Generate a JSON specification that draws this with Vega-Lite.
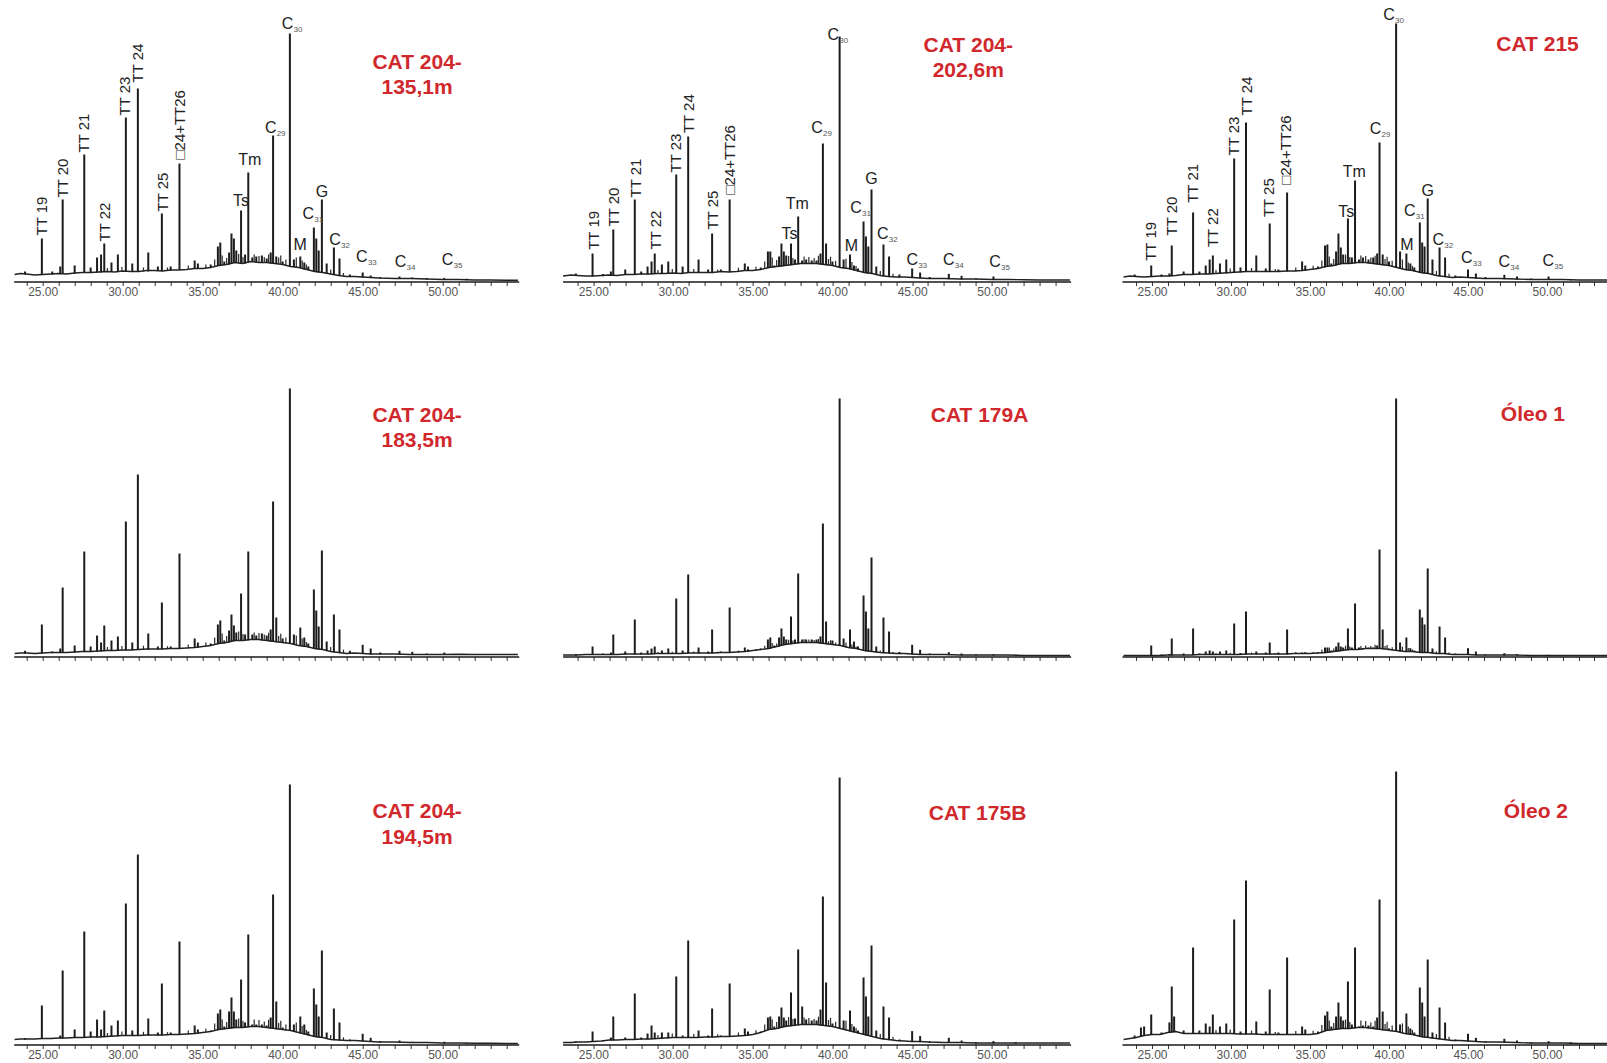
{
  "$schema": "https://vega.github.io/schema/vega-lite/v6.json",
  "padding": {"left": 11.7, "top": 5, "right": 0, "bottom": 0},
  "background": "white",
  "config": {
    "view": {"stroke": null},
    "axis": {"grid": false, "domainColor": "#1a1a1a", "domainWidth": 1.6, "tickColor": "#333", "tickSize": 4, "tickWidth": 1, "labelColor": "#555", "labelFont": "Liberation Sans Narrow, Liberation Sans, sans-serif", "labelFontSize": 12, "labelPadding": 1, "labelOverlap": false, "labelFlush": false},
    "text": {"font": "Liberation Sans"}
  },
  "datasets": {
    "bsA": [{"t":23.25,"v":7},{"t":23.6,"v":8},{"t":24,"v":7.5},{"t":24.5,"v":6.5},{"t":25,"v":7},{"t":25.5,"v":7.5},{"t":26,"v":8},{"t":26.5,"v":7.5},{"t":27,"v":8.5},{"t":27.5,"v":9},{"t":28,"v":9},{"t":28.5,"v":9.5},{"t":29,"v":10},{"t":29.5,"v":9.5},{"t":30,"v":10.5},{"t":30.5,"v":10},{"t":31,"v":10},{"t":31.5,"v":11},{"t":32,"v":11},{"t":32.5,"v":10.5},{"t":33,"v":11.5},{"t":33.5,"v":11.5},{"t":34,"v":12},{"t":34.5,"v":13},{"t":35,"v":13},{"t":35.5,"v":14},{"t":36,"v":16},{"t":36.5,"v":17},{"t":37,"v":19},{"t":37.5,"v":18},{"t":38,"v":20},{"t":38.5,"v":19},{"t":39,"v":19},{"t":39.5,"v":18},{"t":40,"v":17},{"t":40.5,"v":15},{"t":41,"v":14},{"t":41.5,"v":12},{"t":42,"v":10},{"t":42.5,"v":9},{"t":43,"v":7.5},{"t":43.5,"v":6},{"t":44,"v":5},{"t":44.5,"v":5},{"t":45,"v":4.5},{"t":45.5,"v":4},{"t":46,"v":3.5},{"t":47,"v":3},{"t":48,"v":3},{"t":49,"v":2.5},{"t":50,"v":2},{"t":51,"v":2},{"t":52,"v":1.5},{"t":53,"v":1.5},{"t":54,"v":1.2},{"t":54.7,"v":1.2}],
    "bsB": [{"t":23.1,"v":5.5},{"t":23.6,"v":6.5},{"t":24,"v":6},{"t":24.5,"v":5.5},{"t":25,"v":5.5},{"t":25.5,"v":6},{"t":26,"v":6.5},{"t":26.5,"v":6},{"t":27,"v":7},{"t":27.5,"v":7},{"t":28,"v":7.5},{"t":28.5,"v":7.5},{"t":29,"v":8},{"t":29.5,"v":8},{"t":30,"v":8.5},{"t":30.5,"v":8},{"t":31,"v":9},{"t":31.5,"v":9},{"t":32,"v":9},{"t":32.5,"v":9},{"t":33,"v":10},{"t":33.5,"v":9.5},{"t":34,"v":10},{"t":34.5,"v":11},{"t":35,"v":11},{"t":35.5,"v":12},{"t":36,"v":14},{"t":36.5,"v":15},{"t":37,"v":16},{"t":37.5,"v":17},{"t":38,"v":18},{"t":38.5,"v":18},{"t":39,"v":18},{"t":39.5,"v":17},{"t":40,"v":16},{"t":40.5,"v":14},{"t":41,"v":13},{"t":41.5,"v":11},{"t":42,"v":9},{"t":42.5,"v":8},{"t":43,"v":6},{"t":43.5,"v":5},{"t":44,"v":4.5},{"t":44.5,"v":4.5},{"t":45,"v":4},{"t":45.5,"v":3.5},{"t":46,"v":3},{"t":47,"v":3},{"t":48,"v":2.5},{"t":49,"v":2.5},{"t":50,"v":2},{"t":51,"v":2},{"t":52,"v":1.8},{"t":53,"v":1.5},{"t":54,"v":1.5},{"t":54.9,"v":1.5}],
    "bsC": [{"t":23.2,"v":4.5},{"t":23.6,"v":5.5},{"t":24,"v":5},{"t":24.5,"v":4.5},{"t":25,"v":5},{"t":25.5,"v":5.5},{"t":26,"v":5.5},{"t":26.5,"v":6},{"t":27,"v":7},{"t":27.5,"v":7},{"t":28,"v":7.5},{"t":28.5,"v":7.5},{"t":29,"v":8},{"t":29.5,"v":8.5},{"t":30,"v":9},{"t":30.5,"v":9.5},{"t":31,"v":10},{"t":31.5,"v":10},{"t":32,"v":10},{"t":32.5,"v":10},{"t":33,"v":10},{"t":33.5,"v":10.5},{"t":34,"v":10.5},{"t":34.5,"v":11},{"t":35,"v":12},{"t":35.5,"v":13},{"t":36,"v":15},{"t":36.5,"v":16},{"t":37,"v":18},{"t":37.5,"v":18},{"t":38,"v":19},{"t":38.5,"v":19},{"t":39,"v":18},{"t":39.5,"v":17},{"t":40,"v":16},{"t":40.5,"v":14},{"t":41,"v":12},{"t":41.5,"v":11},{"t":42,"v":9},{"t":42.5,"v":8},{"t":43,"v":6},{"t":43.5,"v":5},{"t":44,"v":4},{"t":44.5,"v":4.5},{"t":45,"v":4},{"t":45.5,"v":3.5},{"t":46,"v":3},{"t":47,"v":3},{"t":48,"v":2.5},{"t":49,"v":2},{"t":50,"v":2},{"t":51,"v":2},{"t":52,"v":1.5},{"t":53,"v":1.5},{"t":53.8,"v":1.5}],
    "bsD": [{"t":23.25,"v":3},{"t":23.6,"v":3.5},{"t":24,"v":3.5},{"t":24.5,"v":3},{"t":25,"v":3.5},{"t":25.5,"v":4},{"t":26,"v":4},{"t":26.5,"v":4},{"t":27,"v":4.5},{"t":27.5,"v":5},{"t":28,"v":5},{"t":28.5,"v":5.5},{"t":29,"v":6},{"t":29.5,"v":6},{"t":30,"v":6.5},{"t":30.5,"v":6.5},{"t":31,"v":7},{"t":31.5,"v":7.5},{"t":32,"v":7.5},{"t":32.5,"v":7.5},{"t":33,"v":8},{"t":33.5,"v":8},{"t":34,"v":8.5},{"t":34.5,"v":9},{"t":35,"v":10},{"t":35.5,"v":11},{"t":36,"v":13},{"t":36.5,"v":14},{"t":37,"v":16},{"t":37.5,"v":16},{"t":38,"v":17},{"t":38.5,"v":17},{"t":39,"v":16},{"t":39.5,"v":15},{"t":40,"v":14},{"t":40.5,"v":13},{"t":41,"v":11},{"t":41.5,"v":10},{"t":42,"v":8},{"t":42.5,"v":7},{"t":43,"v":5},{"t":43.5,"v":4},{"t":44,"v":3},{"t":44.5,"v":3.5},{"t":45,"v":3},{"t":45.5,"v":2.5},{"t":46,"v":2.5},{"t":47,"v":2.5},{"t":48,"v":2},{"t":49,"v":2},{"t":50,"v":2},{"t":51,"v":2.2},{"t":52,"v":2},{"t":53,"v":2},{"t":54,"v":2},{"t":54.7,"v":2}],
    "bsE": [{"t":23.1,"v":1.5},{"t":23.6,"v":1.5},{"t":24,"v":1.5},{"t":24.5,"v":2},{"t":25,"v":2},{"t":25.5,"v":2},{"t":26,"v":2},{"t":26.5,"v":2},{"t":27,"v":2.5},{"t":27.5,"v":2.5},{"t":28,"v":2.5},{"t":28.5,"v":2.5},{"t":29,"v":3},{"t":29.5,"v":3},{"t":30,"v":3},{"t":30.5,"v":3},{"t":31,"v":3.5},{"t":31.5,"v":3.5},{"t":32,"v":3.5},{"t":32.5,"v":3.5},{"t":33,"v":4},{"t":33.5,"v":4},{"t":34,"v":4.5},{"t":34.5,"v":5},{"t":35,"v":6},{"t":35.5,"v":7},{"t":36,"v":8},{"t":36.5,"v":10},{"t":37,"v":12},{"t":37.5,"v":13},{"t":38,"v":14},{"t":38.5,"v":14},{"t":39,"v":14},{"t":39.5,"v":13},{"t":40,"v":12},{"t":40.5,"v":11},{"t":41,"v":9},{"t":41.5,"v":8},{"t":42,"v":6},{"t":42.5,"v":5},{"t":43,"v":4},{"t":43.5,"v":3.5},{"t":44,"v":3},{"t":44.5,"v":3},{"t":45,"v":2.5},{"t":45.5,"v":2},{"t":46,"v":2},{"t":47,"v":2},{"t":48,"v":1.5},{"t":49,"v":1.5},{"t":50,"v":1.5},{"t":51,"v":1.5},{"t":52,"v":1},{"t":53,"v":1},{"t":54,"v":1},{"t":54.9,"v":1}],
    "bsF": [{"t":23.2,"v":1},{"t":23.6,"v":1},{"t":24,"v":1},{"t":24.5,"v":1},{"t":25,"v":1},{"t":25.5,"v":1},{"t":26,"v":1.5},{"t":26.5,"v":1.5},{"t":27,"v":1.5},{"t":27.5,"v":1.5},{"t":28,"v":2},{"t":28.5,"v":2},{"t":29,"v":2},{"t":29.5,"v":2},{"t":30,"v":2},{"t":30.5,"v":2},{"t":31,"v":2.5},{"t":31.5,"v":2.5},{"t":32,"v":2.5},{"t":32.5,"v":2.5},{"t":33,"v":2.5},{"t":33.5,"v":2.5},{"t":34,"v":3},{"t":34.5,"v":3},{"t":35,"v":3},{"t":35.5,"v":3.5},{"t":36,"v":4},{"t":36.5,"v":5},{"t":37,"v":6},{"t":37.5,"v":7},{"t":38,"v":7},{"t":38.5,"v":8},{"t":39,"v":8},{"t":39.5,"v":8},{"t":40,"v":7},{"t":40.5,"v":6},{"t":41,"v":5},{"t":41.5,"v":5},{"t":42,"v":4},{"t":42.5,"v":4},{"t":43,"v":3},{"t":43.5,"v":3},{"t":44,"v":2},{"t":44.5,"v":2},{"t":45,"v":2},{"t":45.5,"v":1.5},{"t":46,"v":1.5},{"t":47,"v":1.5},{"t":48,"v":1.5},{"t":49,"v":1},{"t":50,"v":1},{"t":51,"v":1},{"t":52,"v":1},{"t":53,"v":1},{"t":53.8,"v":1}],
    "bsG": [{"t":23.25,"v":5},{"t":23.6,"v":5.5},{"t":24,"v":5.5},{"t":24.5,"v":5.5},{"t":25,"v":6},{"t":25.5,"v":6},{"t":26,"v":6.5},{"t":26.5,"v":6.5},{"t":27,"v":7},{"t":27.5,"v":7},{"t":28,"v":7.5},{"t":28.5,"v":7.5},{"t":29,"v":8},{"t":29.5,"v":8.5},{"t":30,"v":9},{"t":30.5,"v":9},{"t":31,"v":9},{"t":31.5,"v":9.5},{"t":32,"v":9.5},{"t":32.5,"v":9.5},{"t":33,"v":10},{"t":33.5,"v":10},{"t":34,"v":10.5},{"t":34.5,"v":11},{"t":35,"v":12},{"t":35.5,"v":13},{"t":36,"v":15},{"t":36.5,"v":16},{"t":37,"v":17},{"t":37.5,"v":17},{"t":38,"v":18},{"t":38.5,"v":18},{"t":39,"v":17},{"t":39.5,"v":16},{"t":40,"v":15},{"t":40.5,"v":14},{"t":41,"v":12},{"t":41.5,"v":10},{"t":42,"v":8},{"t":42.5,"v":7},{"t":43,"v":5},{"t":43.5,"v":4.5},{"t":44,"v":4},{"t":44.5,"v":4},{"t":45,"v":3.5},{"t":45.5,"v":3},{"t":46,"v":2.5},{"t":47,"v":2.5},{"t":48,"v":2},{"t":49,"v":2},{"t":50,"v":1.5},{"t":51,"v":1.5},{"t":52,"v":1.2},{"t":53,"v":1.2},{"t":54,"v":1},{"t":54.7,"v":1}],
    "bsH": [{"t":23.1,"v":2},{"t":23.6,"v":2},{"t":24,"v":2.5},{"t":24.5,"v":2.5},{"t":25,"v":3},{"t":25.5,"v":3.5},{"t":26,"v":4.5},{"t":26.5,"v":4.5},{"t":27,"v":5},{"t":27.5,"v":5},{"t":28,"v":5.5},{"t":28.5,"v":5.5},{"t":29,"v":6},{"t":29.5,"v":6.5},{"t":30,"v":7},{"t":30.5,"v":7},{"t":31,"v":7},{"t":31.5,"v":7},{"t":32,"v":7.5},{"t":32.5,"v":7.5},{"t":33,"v":8},{"t":33.5,"v":8},{"t":34,"v":8.5},{"t":34.5,"v":9},{"t":35,"v":10},{"t":35.5,"v":12},{"t":36,"v":15},{"t":36.5,"v":16},{"t":37,"v":18},{"t":37.5,"v":19},{"t":38,"v":20},{"t":38.5,"v":20},{"t":39,"v":20},{"t":39.5,"v":19},{"t":40,"v":18},{"t":40.5,"v":16},{"t":41,"v":14},{"t":41.5,"v":12},{"t":42,"v":10},{"t":42.5,"v":8},{"t":43,"v":6},{"t":43.5,"v":5},{"t":44,"v":4},{"t":44.5,"v":3.5},{"t":45,"v":3},{"t":45.5,"v":3},{"t":46,"v":2.5},{"t":47,"v":2},{"t":48,"v":2},{"t":49,"v":1.5},{"t":50,"v":1.5},{"t":51,"v":1.5},{"t":52,"v":1.5},{"t":53,"v":1.5},{"t":54,"v":1.5},{"t":54.9,"v":1.5}],
    "bsI": [{"t":23.2,"v":5},{"t":23.6,"v":6},{"t":24,"v":7},{"t":24.5,"v":9},{"t":25,"v":10},{"t":25.5,"v":10},{"t":26,"v":12},{"t":26.5,"v":13},{"t":27,"v":11},{"t":27.5,"v":11},{"t":28,"v":11},{"t":28.5,"v":11},{"t":29,"v":11},{"t":29.5,"v":11},{"t":30,"v":11},{"t":30.5,"v":10.5},{"t":31,"v":10.5},{"t":31.5,"v":10.5},{"t":32,"v":10},{"t":32.5,"v":10},{"t":33,"v":10},{"t":33.5,"v":10},{"t":34,"v":10},{"t":34.5,"v":10},{"t":35,"v":10},{"t":35.5,"v":11},{"t":36,"v":14},{"t":36.5,"v":15},{"t":37,"v":16},{"t":37.5,"v":16},{"t":38,"v":17},{"t":38.5,"v":17},{"t":39,"v":16},{"t":39.5,"v":15},{"t":40,"v":14},{"t":40.5,"v":13},{"t":41,"v":11},{"t":41.5,"v":10},{"t":42,"v":8},{"t":42.5,"v":7},{"t":43,"v":6},{"t":43.5,"v":5},{"t":44,"v":4},{"t":44.5,"v":4},{"t":45,"v":3.5},{"t":45.5,"v":3},{"t":46,"v":2.5},{"t":47,"v":2.5},{"t":48,"v":2},{"t":49,"v":1.5},{"t":50,"v":1.5},{"t":51,"v":1.5},{"t":52,"v":1},{"t":53,"v":1},{"t":53.8,"v":1}],
    "grA": [{"t":29.05,"v":13.5,"b":9.5},{"t":29.95,"v":14.5,"b":10},{"t":31.3,"v":14,"b":10},{"t":32.8,"v":14,"b":11},{"t":34.1,"v":16,"b":12},{"t":35.2,"v":17,"b":13},{"t":35.75,"v":22,"b":14.5},{"t":36.22,"v":26,"b":16},{"t":36.5,"v":23.5,"b":16.5},{"t":37.25,"v":27.5,"b":18},{"t":37.52,"v":24.5,"b":17.5},{"t":38.22,"v":27,"b":19.5},{"t":38.52,"v":25.5,"b":18.5},{"t":38.85,"v":24.5,"b":18.5},{"t":39.12,"v":27,"b":18.5},{"t":39.75,"v":24,"b":17.5},{"t":39.88,"v":26,"b":17},{"t":40.2,"v":22,"b":16},{"t":40.85,"v":24,"b":14},{"t":41.22,"v":21,"b":13},{"t":41.48,"v":17,"b":12},{"t":43.0,"v":12,"b":7},{"t":43.8,"v":8.5,"b":5}],
    "grB": [{"t":29.05,"v":11.5,"b":7.5},{"t":29.95,"v":12.5,"b":8},{"t":31.3,"v":12.5,"b":8.5},{"t":32.8,"v":12,"b":9},{"t":34.1,"v":13.8,"b":9.8},{"t":35.2,"v":14.7,"b":10.7},{"t":35.75,"v":20,"b":12.5},{"t":36.22,"v":24,"b":14},{"t":36.5,"v":21.5,"b":14.5},{"t":37.25,"v":25.5,"b":16},{"t":37.52,"v":23.5,"b":16.5},{"t":38.22,"v":25,"b":17.5},{"t":38.52,"v":24.5,"b":17.5},{"t":38.85,"v":23.5,"b":17.5},{"t":39.12,"v":25.8,"b":17.3},{"t":39.75,"v":22.5,"b":16},{"t":39.88,"v":24.7,"b":15.7},{"t":40.2,"v":20.8,"b":14.8},{"t":40.85,"v":22.7,"b":12.7},{"t":41.22,"v":19.5,"b":11.5},{"t":41.48,"v":15.5,"b":10.5},{"t":43.0,"v":10.5,"b":5.5},{"t":43.8,"v":7.8,"b":4.3}],
    "grC": [{"t":29.05,"v":11.5,"b":7.5},{"t":29.95,"v":13,"b":8.5},{"t":31.3,"v":13.5,"b":9.5},{"t":32.8,"v":12.5,"b":9.5},{"t":34.1,"v":14,"b":10},{"t":35.2,"v":15.7,"b":11.7},{"t":35.75,"v":21,"b":13.5},{"t":36.22,"v":25,"b":15},{"t":36.5,"v":22.5,"b":15.5},{"t":37.25,"v":27,"b":17.5},{"t":37.52,"v":24.5,"b":17.5},{"t":38.22,"v":26,"b":18.5},{"t":38.52,"v":25.5,"b":18.5},{"t":38.85,"v":24,"b":18},{"t":39.12,"v":25.8,"b":17.3},{"t":39.75,"v":22.5,"b":16},{"t":39.88,"v":24.7,"b":15.7},{"t":40.2,"v":20.7,"b":14.7},{"t":40.85,"v":22,"b":12},{"t":41.22,"v":19,"b":11},{"t":41.48,"v":15.5,"b":10.5},{"t":43.0,"v":10.5,"b":5.5},{"t":43.8,"v":7.7,"b":4.2}],
    "grD": [{"t":29.05,"v":9.5,"b":5.5},{"t":29.95,"v":10.5,"b":6},{"t":31.3,"v":10.8,"b":6.8},{"t":32.8,"v":10.3,"b":7.3},{"t":34.1,"v":12.1,"b":8.1},{"t":35.2,"v":13.9,"b":9.9},{"t":35.75,"v":19,"b":11.5},{"t":36.22,"v":23,"b":13},{"t":36.5,"v":20.5,"b":13.5},{"t":37.25,"v":25,"b":15.5},{"t":37.52,"v":22.5,"b":15.5},{"t":38.22,"v":24,"b":16.5},{"t":38.52,"v":23.5,"b":16.5},{"t":38.85,"v":22,"b":16},{"t":39.12,"v":23.8,"b":15.3},{"t":39.75,"v":20.5,"b":14},{"t":39.88,"v":22.7,"b":13.7},{"t":40.2,"v":19.1,"b":13.1},{"t":40.85,"v":21.1,"b":11.1},{"t":41.22,"v":18,"b":10},{"t":41.48,"v":14.5,"b":9.5},{"t":43.0,"v":9.5,"b":4.5},{"t":43.8,"v":6.8,"b":3.3}],
    "grE": [{"t":29.05,"v":4.5,"b":2.5},{"t":29.95,"v":4.8,"b":2.5},{"t":31.3,"v":5,"b":3},{"t":32.8,"v":4.8,"b":3.3},{"t":34.1,"v":6,"b":4},{"t":35.2,"v":7.4,"b":5.4},{"t":35.75,"v":10.8,"b":7},{"t":36.22,"v":13.4,"b":8.4},{"t":36.5,"v":13,"b":9.5},{"t":37.25,"v":16.8,"b":12},{"t":37.52,"v":16,"b":12.5},{"t":38.22,"v":17.3,"b":13.5},{"t":38.52,"v":17,"b":13.5},{"t":38.85,"v":16.5,"b":13.5},{"t":39.12,"v":17.5,"b":13.3},{"t":39.75,"v":15.3,"b":12},{"t":39.88,"v":16.3,"b":11.8},{"t":40.2,"v":14.1,"b":11.1},{"t":40.85,"v":14,"b":9},{"t":41.22,"v":12.1,"b":8.1},{"t":41.48,"v":10,"b":7.5},{"t":43.0,"v":6,"b":3.5},{"t":43.8,"v":4.6,"b":2.8}],
    "grF": [{"t":29.05,"v":3.5,"b":1.5},{"t":29.95,"v":3.8,"b":1.5},{"t":31.3,"v":4,"b":2},{"t":32.8,"v":3.5,"b":2},{"t":34.1,"v":4.5,"b":2.5},{"t":35.2,"v":4.6,"b":2.6},{"t":35.75,"v":7,"b":3.2},{"t":36.22,"v":9,"b":4},{"t":36.5,"v":8,"b":4.5},{"t":37.25,"v":10.8,"b":6},{"t":37.52,"v":10,"b":6.5},{"t":38.22,"v":10.5,"b":6.8},{"t":38.52,"v":11,"b":7.5},{"t":38.85,"v":10.5,"b":7.5},{"t":39.12,"v":11.8,"b":7.5},{"t":39.75,"v":10.5,"b":7.2},{"t":39.88,"v":11.5,"b":7},{"t":40.2,"v":9.2,"b":6.2},{"t":40.85,"v":9.8,"b":4.8},{"t":41.22,"v":8.5,"b":4.5},{"t":41.48,"v":7,"b":4.5},{"t":43.0,"v":5,"b":2.5},{"t":43.8,"v":4,"b":2.2}],
    "grG": [{"t":29.05,"v":11.5,"b":7.5},{"t":29.95,"v":13,"b":8.5},{"t":31.3,"v":12.7,"b":8.7},{"t":32.8,"v":12.3,"b":9.3},{"t":34.1,"v":14.1,"b":10.1},{"t":35.2,"v":15.9,"b":11.9},{"t":35.75,"v":21,"b":13.5},{"t":36.22,"v":25,"b":15},{"t":36.5,"v":22.5,"b":15.5},{"t":37.25,"v":26,"b":16.5},{"t":37.52,"v":23.5,"b":16.5},{"t":38.22,"v":25,"b":17.5},{"t":38.52,"v":24.5,"b":17.5},{"t":38.85,"v":23,"b":17},{"t":39.12,"v":24.8,"b":16.3},{"t":39.75,"v":21.5,"b":15},{"t":39.88,"v":23.7,"b":14.7},{"t":40.2,"v":20,"b":14},{"t":40.85,"v":22,"b":12},{"t":41.22,"v":18.5,"b":10.5},{"t":41.48,"v":14.5,"b":9.5},{"t":43.0,"v":9.5,"b":4.5},{"t":43.8,"v":7.2,"b":3.7}],
    "grH": [{"t":29.05,"v":9.5,"b":5.5},{"t":29.95,"v":11,"b":6.5},{"t":31.3,"v":10.5,"b":6.5},{"t":32.8,"v":10.3,"b":7.3},{"t":34.1,"v":12.1,"b":8.1},{"t":35.2,"v":14.3,"b":10.3},{"t":35.75,"v":20,"b":12.5},{"t":36.22,"v":25,"b":15},{"t":36.5,"v":22.5,"b":15.5},{"t":37.25,"v":27.5,"b":18},{"t":37.52,"v":25.5,"b":18.5},{"t":38.22,"v":27,"b":19.5},{"t":38.52,"v":26.5,"b":19.5},{"t":38.85,"v":25.5,"b":19.5},{"t":39.12,"v":27.8,"b":19.3},{"t":39.75,"v":24.5,"b":18},{"t":39.88,"v":26.7,"b":17.7},{"t":40.2,"v":22.7,"b":16.7},{"t":40.85,"v":23.8,"b":13.8},{"t":41.22,"v":20.5,"b":12.5},{"t":41.48,"v":16.5,"b":11.5},{"t":43.0,"v":10.5,"b":5.5},{"t":43.8,"v":7.7,"b":4.2}],
    "grI": [{"t":29.05,"v":14.5,"b":10.5},{"t":29.95,"v":15,"b":10.5},{"t":31.3,"v":14,"b":10},{"t":32.8,"v":12.5,"b":9.5},{"t":34.1,"v":13.5,"b":9.5},{"t":35.2,"v":13.8,"b":9.8},{"t":35.75,"v":19.5,"b":12},{"t":36.22,"v":23.9,"b":13.9},{"t":36.5,"v":21.5,"b":14.5},{"t":37.25,"v":25,"b":15.5},{"t":37.52,"v":22.5,"b":15.5},{"t":38.22,"v":24,"b":16.5},{"t":38.52,"v":23.5,"b":16.5},{"t":38.85,"v":22,"b":16},{"t":39.12,"v":23.8,"b":15.3},{"t":39.75,"v":20.5,"b":14},{"t":39.88,"v":22.7,"b":13.7},{"t":40.2,"v":19.1,"b":13.1},{"t":40.85,"v":21.1,"b":11.1},{"t":41.22,"v":18,"b":10},{"t":41.48,"v":14.5,"b":9.5},{"t":43.0,"v":10.5,"b":5.5},{"t":43.8,"v":7.8,"b":4.3}],
    "pkA": [{"t":23.9,"v":10,"b":7},{"t":24.95,"v":43,"b":6.5},{"t":25.6,"v":10,"b":7},{"t":26.1,"v":15,"b":7.5},{"t":26.25,"v":82,"b":7.5},{"t":27.0,"v":16,"b":8},{"t":27.6,"v":127,"b":8.5},{"t":28.0,"v":14,"b":8.5},{"t":28.4,"v":24,"b":9},{"t":28.65,"v":27,"b":9},{"t":28.85,"v":38,"b":9.5},{"t":29.3,"v":19,"b":9.5},{"t":29.7,"v":27,"b":10},{"t":30.2,"v":164,"b":10},{"t":30.6,"v":18,"b":10},{"t":30.95,"v":193,"b":9.5},{"t":31.6,"v":29,"b":10},{"t":32.2,"v":15,"b":10.5},{"t":32.45,"v":68,"b":10.5},{"t":33.0,"v":15,"b":11},{"t":33.55,"v":118,"b":11.5},{"t":34.5,"v":21,"b":12.5},{"t":34.7,"v":18,"b":12.5},{"t":35.5,"v":17,"b":13.5},{"t":35.95,"v":35,"b":15.5},{"t":36.1,"v":39,"b":15.5},{"t":36.35,"v":20,"b":16.5},{"t":36.65,"v":29,"b":17},{"t":36.8,"v":48,"b":17.5},{"t":36.95,"v":43,"b":18.5},{"t":37.1,"v":31,"b":18.5},{"t":37.4,"v":71,"b":17.5},{"t":37.65,"v":27,"b":18},{"t":37.85,"v":109,"b":19},{"t":38.1,"v":24,"b":19.5},{"t":38.35,"v":25,"b":18.5},{"t":38.7,"v":26,"b":18.5},{"t":39.0,"v":23,"b":18.5},{"t":39.25,"v":29,"b":18},{"t":39.4,"v":146,"b":17.5},{"t":39.6,"v":25,"b":17.5},{"t":40.0,"v":20,"b":16.5},{"t":40.45,"v":248,"b":14.5},{"t":40.7,"v":22,"b":14.5},{"t":41.1,"v":25,"b":13.5},{"t":41.35,"v":19,"b":12},{"t":41.6,"v":15,"b":11.5},{"t":41.95,"v":54,"b":9.5},{"t":42.1,"v":43,"b":9.5},{"t":42.25,"v":31,"b":9},{"t":42.45,"v":82,"b":8.5},{"t":42.75,"v":18,"b":7.5},{"t":43.2,"v":34,"b":6.5},{"t":43.55,"v":23,"b":5.5},{"t":44.2,"v":7,"b":4.5},{"t":45.0,"v":9,"b":4},{"t":45.5,"v":6,"b":3.5},{"t":46.1,"v":4.5,"b":3},{"t":47.3,"v":5,"b":2.5},{"t":48.1,"v":4,"b":2.5},{"t":49.0,"v":3.5,"b":2},{"t":50.1,"v":3.5,"b":1.5},{"t":51.5,"v":2.8,"b":1.3}],
    "pkB": [{"t":23.9,"v":8,"b":5.5},{"t":24.95,"v":28,"b":5},{"t":25.6,"v":7.5,"b":5.3},{"t":26.1,"v":10,"b":6},{"t":26.25,"v":52,"b":6},{"t":27.0,"v":12,"b":6.5},{"t":27.6,"v":82,"b":6.8},{"t":28.0,"v":10,"b":7},{"t":28.4,"v":15,"b":7.2},{"t":28.65,"v":20,"b":7.3},{"t":28.85,"v":28,"b":7.5},{"t":29.3,"v":17,"b":7.7},{"t":29.7,"v":20,"b":7.9},{"t":30.2,"v":107,"b":8.1},{"t":30.6,"v":15,"b":8.3},{"t":30.95,"v":145,"b":8.5},{"t":31.6,"v":22,"b":8.5},{"t":32.2,"v":12,"b":8.7},{"t":32.45,"v":48,"b":8.9},{"t":33.0,"v":12,"b":9.5},{"t":33.55,"v":82,"b":9.5},{"t":34.5,"v":18,"b":10.5},{"t":34.7,"v":15,"b":10.5},{"t":35.5,"v":14,"b":11.5},{"t":35.95,"v":30,"b":13.3},{"t":36.1,"v":30,"b":13.7},{"t":36.35,"v":16,"b":14.2},{"t":36.65,"v":25,"b":14.8},{"t":36.8,"v":38,"b":15.1},{"t":36.95,"v":30,"b":15.4},{"t":37.1,"v":26,"b":15.7},{"t":37.4,"v":38,"b":16.3},{"t":37.65,"v":22,"b":16.8},{"t":37.85,"v":65,"b":17.2},{"t":38.1,"v":21,"b":17.5},{"t":38.35,"v":22,"b":17.5},{"t":38.7,"v":21,"b":17.5},{"t":39.0,"v":21,"b":17.5},{"t":39.25,"v":28,"b":17},{"t":39.4,"v":138,"b":16.7},{"t":39.6,"v":38,"b":16.3},{"t":40.0,"v":20,"b":15.5},{"t":40.45,"v":245,"b":13.7},{"t":40.7,"v":22,"b":13.1},{"t":41.1,"v":27,"b":12.1},{"t":41.35,"v":16,"b":11.1},{"t":41.6,"v":13,"b":10.1},{"t":41.95,"v":60,"b":8.7},{"t":42.1,"v":45,"b":8.3},{"t":42.25,"v":35,"b":8},{"t":42.45,"v":92,"b":7.6},{"t":42.75,"v":15,"b":6.7},{"t":43.2,"v":37,"b":5.1},{"t":43.55,"v":25,"b":4.5},{"t":44.2,"v":7,"b":3.9},{"t":45.0,"v":13,"b":3.5},{"t":45.5,"v":9,"b":3},{"t":46.1,"v":4.5,"b":2.5},{"t":47.3,"v":7.7,"b":2.3},{"t":48.1,"v":5.7,"b":2},{"t":49.0,"v":3,"b":2},{"t":50.1,"v":5,"b":1.5},{"t":51.5,"v":2.5,"b":1.4}],
    "pkC": [{"t":23.9,"v":7,"b":4.5},{"t":24.95,"v":16,"b":4.5},{"t":25.6,"v":7,"b":4.8},{"t":26.1,"v":8,"b":5.1},{"t":26.25,"v":36,"b":5.4},{"t":27.0,"v":10,"b":6.5},{"t":27.6,"v":69,"b":6.8},{"t":28.0,"v":10,"b":7},{"t":28.4,"v":16,"b":7.2},{"t":28.65,"v":22,"b":7.3},{"t":28.85,"v":26,"b":7.5},{"t":29.3,"v":18,"b":7.8},{"t":29.7,"v":22,"b":8.2},{"t":30.2,"v":123,"b":8.7},{"t":30.6,"v":14,"b":9.1},{"t":30.95,"v":159,"b":9.5},{"t":31.6,"v":26,"b":9.5},{"t":32.2,"v":13,"b":9.5},{"t":32.45,"v":58,"b":9.5},{"t":33.0,"v":12,"b":9.5},{"t":33.55,"v":89,"b":10},{"t":34.5,"v":20,"b":10.5},{"t":34.7,"v":16,"b":10.9},{"t":35.5,"v":15,"b":12.5},{"t":35.95,"v":36,"b":14.3},{"t":36.1,"v":37,"b":14.7},{"t":36.35,"v":18,"b":15.2},{"t":36.65,"v":30,"b":16.1},{"t":36.8,"v":48,"b":16.7},{"t":36.95,"v":34,"b":17.3},{"t":37.1,"v":27,"b":17.5},{"t":37.4,"v":63,"b":17.5},{"t":37.65,"v":24,"b":17.8},{"t":37.85,"v":101,"b":18.2},{"t":38.1,"v":22,"b":18.5},{"t":38.35,"v":24,"b":18.5},{"t":38.7,"v":22,"b":18.1},{"t":39.0,"v":24,"b":17.5},{"t":39.25,"v":28,"b":17},{"t":39.4,"v":139,"b":16.7},{"t":39.6,"v":27,"b":16.3},{"t":40.0,"v":20,"b":15.5},{"t":40.45,"v":258,"b":13.7},{"t":40.7,"v":30,"b":12.7},{"t":41.1,"v":28,"b":11.3},{"t":41.35,"v":18,"b":10.8},{"t":41.6,"v":14,"b":10.1},{"t":41.95,"v":59,"b":8.7},{"t":42.1,"v":39,"b":8.3},{"t":42.25,"v":35,"b":8},{"t":42.45,"v":83,"b":7.6},{"t":42.75,"v":22,"b":6.5},{"t":43.2,"v":34,"b":5.1},{"t":43.55,"v":24,"b":4.4},{"t":44.2,"v":6,"b":3.5},{"t":45.0,"v":12,"b":3.5},{"t":45.5,"v":8,"b":3},{"t":46.1,"v":4.5,"b":2.5},{"t":47.3,"v":6.7,"b":2.3},{"t":48.1,"v":5,"b":2},{"t":49.0,"v":3,"b":1.5},{"t":50.1,"v":5,"b":1.5},{"t":51.5,"v":2.5,"b":1.2}],
    "pkD": [{"t":23.9,"v":5.7,"b":2.9},{"t":24.95,"v":32,"b":3},{"t":25.6,"v":5,"b":3.3},{"t":26.1,"v":8,"b":3.5},{"t":26.25,"v":69,"b":3.6},{"t":27.0,"v":11,"b":4},{"t":27.6,"v":105,"b":4.3},{"t":28.0,"v":10,"b":4.5},{"t":28.4,"v":21,"b":4.9},{"t":28.65,"v":14,"b":5.1},{"t":28.85,"v":31,"b":5.4},{"t":29.3,"v":16,"b":5.7},{"t":29.7,"v":20,"b":5.9},{"t":30.2,"v":135,"b":6.1},{"t":30.6,"v":14,"b":6.3},{"t":30.95,"v":182,"b":6.5},{"t":31.6,"v":23,"b":6.8},{"t":32.2,"v":10,"b":7.1},{"t":32.45,"v":54,"b":7.2},{"t":33.0,"v":10,"b":7.5},{"t":33.55,"v":103,"b":7.8},{"t":34.5,"v":18,"b":8.5},{"t":34.7,"v":14,"b":8.9},{"t":35.5,"v":13,"b":10.5},{"t":35.95,"v":32,"b":12.3},{"t":36.1,"v":36,"b":12.7},{"t":36.35,"v":16,"b":13.2},{"t":36.65,"v":26,"b":14.1},{"t":36.8,"v":42,"b":14.7},{"t":36.95,"v":31,"b":15.3},{"t":37.1,"v":24,"b":15.5},{"t":37.4,"v":63,"b":15.5},{"t":37.65,"v":22,"b":15.8},{"t":37.85,"v":105,"b":16.2},{"t":38.1,"v":22,"b":16.5},{"t":38.35,"v":21,"b":16.5},{"t":38.7,"v":23,"b":16.1},{"t":39.0,"v":21,"b":15.5},{"t":39.25,"v":27,"b":15},{"t":39.4,"v":155,"b":14.7},{"t":39.6,"v":39,"b":14.3},{"t":40.0,"v":18,"b":13.5},{"t":40.45,"v":268,"b":12.6},{"t":40.7,"v":22,"b":11.7},{"t":41.1,"v":29,"b":10.3},{"t":41.35,"v":19,"b":9.8},{"t":41.6,"v":13,"b":9.1},{"t":41.95,"v":67,"b":7.7},{"t":42.1,"v":46,"b":7.3},{"t":42.25,"v":30,"b":7},{"t":42.45,"v":106,"b":6.6},{"t":42.75,"v":15,"b":5.5},{"t":43.2,"v":42,"b":4.1},{"t":43.55,"v":27,"b":3.4},{"t":44.2,"v":5.7,"b":2.5},{"t":45.0,"v":11.7,"b":2.5},{"t":45.5,"v":8,"b":2.2},{"t":46.1,"v":4,"b":2},{"t":47.3,"v":5.7,"b":1.9},{"t":48.1,"v":4.7,"b":1.5},{"t":49.0,"v":3,"b":1.5},{"t":50.1,"v":4,"b":1.5},{"t":51.5,"v":2.5,"b":1.5}],
    "pkE": [{"t":23.9,"v":2.5,"b":1},{"t":24.95,"v":10,"b":1.5},{"t":25.6,"v":3,"b":1.5},{"t":26.1,"v":4,"b":1.5},{"t":26.25,"v":22,"b":1.6},{"t":27.0,"v":5,"b":2},{"t":27.6,"v":37,"b":2},{"t":28.0,"v":4,"b":2},{"t":28.4,"v":6,"b":2.2},{"t":28.65,"v":8,"b":2.3},{"t":28.85,"v":10,"b":2.4},{"t":29.3,"v":6,"b":2.5},{"t":29.7,"v":8,"b":2.5},{"t":30.2,"v":58,"b":2.6},{"t":30.6,"v":6,"b":2.8},{"t":30.95,"v":82,"b":3},{"t":31.6,"v":9,"b":3},{"t":32.2,"v":5,"b":3.1},{"t":32.45,"v":27,"b":3.2},{"t":33.0,"v":5,"b":3.5},{"t":33.55,"v":49,"b":3.8},{"t":34.5,"v":9,"b":4.5},{"t":34.7,"v":7,"b":4.9},{"t":35.5,"v":8,"b":6.5},{"t":35.95,"v":17,"b":7.4},{"t":36.1,"v":19,"b":7.9},{"t":36.35,"v":11,"b":8.9},{"t":36.65,"v":19,"b":10.1},{"t":36.8,"v":28,"b":10.7},{"t":36.95,"v":20,"b":11.3},{"t":37.1,"v":17,"b":11.7},{"t":37.4,"v":40,"b":12.3},{"t":37.65,"v":17,"b":12.8},{"t":37.85,"v":83,"b":13.2},{"t":38.1,"v":17,"b":13.5},{"t":38.35,"v":17,"b":13.5},{"t":38.7,"v":17,"b":13.5},{"t":39.0,"v":17,"b":13.5},{"t":39.25,"v":20,"b":13},{"t":39.4,"v":133,"b":12.7},{"t":39.6,"v":35,"b":12.3},{"t":40.0,"v":16,"b":11.5},{"t":40.45,"v":258,"b":10.6},{"t":40.7,"v":18,"b":9.7},{"t":41.1,"v":27,"b":8.3},{"t":41.35,"v":15,"b":7.8},{"t":41.6,"v":10,"b":7.1},{"t":41.95,"v":61,"b":5.7},{"t":42.1,"v":45,"b":5.3},{"t":42.25,"v":28,"b":5},{"t":42.45,"v":99,"b":4.6},{"t":42.75,"v":10,"b":4},{"t":43.2,"v":39,"b":3.3},{"t":43.55,"v":25,"b":3},{"t":44.2,"v":4.5,"b":2.4},{"t":45.0,"v":11.7,"b":2},{"t":45.5,"v":6.7,"b":1.7},{"t":46.1,"v":3,"b":1.5},{"t":47.3,"v":4.3,"b":1.4},{"t":48.1,"v":3,"b":1},{"t":49.0,"v":2,"b":1},{"t":50.1,"v":2.3,"b":1},{"t":51.5,"v":1.7,"b":0.8}],
    "pkF": [{"t":23.9,"v":1.5,"b":0.5},{"t":24.95,"v":11,"b":0.5},{"t":25.6,"v":2,"b":0.5},{"t":26.1,"v":2.5,"b":1},{"t":26.25,"v":18,"b":1},{"t":27.0,"v":3,"b":1},{"t":27.6,"v":28,"b":1.3},{"t":28.0,"v":3,"b":1.5},{"t":28.4,"v":5,"b":1.5},{"t":28.65,"v":6,"b":1.5},{"t":28.85,"v":5,"b":1.5},{"t":29.3,"v":5,"b":1.5},{"t":29.7,"v":6,"b":1.5},{"t":30.2,"v":33,"b":1.6},{"t":30.6,"v":3.5,"b":1.8},{"t":30.95,"v":45,"b":2},{"t":31.6,"v":5,"b":2},{"t":32.2,"v":4,"b":2},{"t":32.45,"v":14,"b":2},{"t":33.0,"v":4,"b":2},{"t":33.55,"v":27,"b":2},{"t":34.5,"v":4,"b":2.5},{"t":34.7,"v":4.3,"b":2.5},{"t":35.5,"v":4,"b":3},{"t":35.95,"v":9,"b":3.4},{"t":36.1,"v":9,"b":3.7},{"t":36.35,"v":6,"b":4.2},{"t":36.65,"v":10,"b":4.8},{"t":36.8,"v":14,"b":5.1},{"t":36.95,"v":10,"b":5.4},{"t":37.1,"v":9,"b":5.7},{"t":37.4,"v":28,"b":6.3},{"t":37.65,"v":9,"b":6.5},{"t":37.85,"v":53,"b":6.5},{"t":38.1,"v":9,"b":6.7},{"t":38.35,"v":8.5,"b":7.2},{"t":38.7,"v":9,"b":7.5},{"t":39.0,"v":9,"b":7.5},{"t":39.25,"v":11,"b":7.5},{"t":39.4,"v":107,"b":7.5},{"t":39.6,"v":27,"b":7.3},{"t":40.0,"v":8,"b":6.5},{"t":40.45,"v":258,"b":5.6},{"t":40.7,"v":14,"b":5.1},{"t":41.1,"v":19,"b":4.5},{"t":41.35,"v":8.3,"b":4.5},{"t":41.6,"v":6,"b":4.3},{"t":41.95,"v":47,"b":3.5},{"t":42.1,"v":39,"b":3.5},{"t":42.25,"v":32,"b":3.5},{"t":42.45,"v":88,"b":3.5},{"t":42.75,"v":8,"b":3},{"t":43.2,"v":30,"b":2.5},{"t":43.55,"v":19,"b":2.4},{"t":44.2,"v":3,"b":1.5},{"t":45.0,"v":8.3,"b":1.5},{"t":45.5,"v":5,"b":1.2},{"t":46.1,"v":2,"b":1},{"t":47.3,"v":3.3,"b":1},{"t":48.1,"v":2.3,"b":1},{"t":49.0,"v":1.5,"b":0.5},{"t":50.1,"v":1.7,"b":0.5},{"t":51.5,"v":1.2,"b":0.5}],
    "pkG": [{"t":23.9,"v":6.5,"b":4.9},{"t":24.95,"v":39,"b":5.5},{"t":25.6,"v":6.5,"b":5.6},{"t":26.1,"v":9,"b":6},{"t":26.25,"v":74,"b":6.1},{"t":27.0,"v":15,"b":6.5},{"t":27.6,"v":113,"b":6.8},{"t":28.0,"v":13,"b":7},{"t":28.4,"v":25,"b":7.2},{"t":28.65,"v":15,"b":7.3},{"t":28.85,"v":34,"b":7.4},{"t":29.3,"v":19,"b":7.8},{"t":29.7,"v":24,"b":8.2},{"t":30.2,"v":141,"b":8.5},{"t":30.6,"v":14,"b":8.5},{"t":30.95,"v":190,"b":8.5},{"t":31.6,"v":26,"b":8.8},{"t":32.2,"v":12,"b":9.1},{"t":32.45,"v":61,"b":9.2},{"t":33.0,"v":12,"b":9.5},{"t":33.55,"v":103,"b":9.8},{"t":34.5,"v":19,"b":10.5},{"t":34.7,"v":15,"b":10.9},{"t":35.5,"v":14,"b":12.5},{"t":35.95,"v":31,"b":14.3},{"t":36.1,"v":35,"b":14.7},{"t":36.35,"v":18,"b":15.2},{"t":36.65,"v":33,"b":15.8},{"t":36.8,"v":47,"b":16.1},{"t":36.95,"v":33,"b":16.4},{"t":37.1,"v":25,"b":16.5},{"t":37.4,"v":65,"b":16.5},{"t":37.65,"v":22,"b":16.8},{"t":37.85,"v":110,"b":17.2},{"t":38.1,"v":20,"b":17.5},{"t":38.35,"v":20,"b":17.5},{"t":38.7,"v":20,"b":17.1},{"t":39.0,"v":19,"b":16.5},{"t":39.25,"v":27,"b":16},{"t":39.4,"v":150,"b":15.7},{"t":39.6,"v":43,"b":15.3},{"t":40.0,"v":17,"b":14.5},{"t":40.45,"v":260,"b":13.6},{"t":40.7,"v":20,"b":12.7},{"t":41.1,"v":28,"b":11.1},{"t":41.35,"v":20,"b":10.1},{"t":41.6,"v":13,"b":9.1},{"t":41.95,"v":56,"b":7.7},{"t":42.1,"v":40,"b":7.3},{"t":42.25,"v":28,"b":7},{"t":42.45,"v":94,"b":6.6},{"t":42.75,"v":12,"b":5.5},{"t":43.2,"v":36,"b":4.3},{"t":43.55,"v":22,"b":3.9},{"t":44.2,"v":5,"b":3.4},{"t":45.0,"v":10.7,"b":3},{"t":45.5,"v":6.7,"b":2.5},{"t":46.1,"v":3.5,"b":2},{"t":47.3,"v":4,"b":1.9},{"t":48.1,"v":2.7,"b":1.5},{"t":49.0,"v":2.2,"b":1.5},{"t":50.1,"v":2.7,"b":1},{"t":51.5,"v":1.7,"b":0.9}],
    "pkH": [{"t":23.9,"v":3,"b":1.9},{"t":24.95,"v":13,"b":2.5},{"t":25.6,"v":4,"b":3.3},{"t":26.1,"v":7,"b":4},{"t":26.25,"v":28,"b":4.1},{"t":27.0,"v":7,"b":4.5},{"t":27.6,"v":51,"b":4.8},{"t":28.0,"v":7,"b":5},{"t":28.4,"v":11,"b":5.2},{"t":28.65,"v":19,"b":5.3},{"t":28.85,"v":12,"b":5.4},{"t":29.3,"v":12,"b":5.8},{"t":29.7,"v":12,"b":6.2},{"t":30.2,"v":68,"b":6.5},{"t":30.6,"v":9,"b":6.5},{"t":30.95,"v":104,"b":6.5},{"t":31.6,"v":14,"b":6.6},{"t":32.2,"v":9,"b":7.1},{"t":32.45,"v":36,"b":7.2},{"t":33.0,"v":9,"b":7.5},{"t":33.55,"v":61,"b":7.8},{"t":34.5,"v":16,"b":8.5},{"t":34.7,"v":13,"b":8.9},{"t":35.5,"v":13,"b":11.5},{"t":35.95,"v":27,"b":14.2},{"t":36.1,"v":28,"b":14.7},{"t":36.35,"v":18,"b":15.2},{"t":36.65,"v":28,"b":16.1},{"t":36.8,"v":37,"b":16.7},{"t":36.95,"v":27,"b":17.3},{"t":37.1,"v":24,"b":17.7},{"t":37.4,"v":52,"b":18.3},{"t":37.65,"v":26,"b":18.8},{"t":37.85,"v":95,"b":19.2},{"t":38.1,"v":38,"b":19.5},{"t":38.35,"v":25,"b":19.5},{"t":38.7,"v":24,"b":19.5},{"t":39.0,"v":24,"b":19.5},{"t":39.25,"v":35,"b":19},{"t":39.4,"v":148,"b":18.7},{"t":39.6,"v":62,"b":18.3},{"t":40.0,"v":21,"b":17.5},{"t":40.45,"v":267,"b":15.7},{"t":40.7,"v":24,"b":14.7},{"t":41.1,"v":34,"b":13.1},{"t":41.35,"v":18,"b":12.1},{"t":41.6,"v":14,"b":11.1},{"t":41.95,"v":67,"b":9.7},{"t":42.1,"v":48,"b":9.1},{"t":42.25,"v":28,"b":8.5},{"t":42.45,"v":99,"b":7.7},{"t":42.75,"v":14,"b":6.5},{"t":43.2,"v":38,"b":5.1},{"t":43.55,"v":27,"b":4.4},{"t":44.2,"v":5,"b":3.3},{"t":45.0,"v":13.4,"b":2.5},{"t":45.5,"v":8.4,"b":2.3},{"t":46.1,"v":3.5,"b":2},{"t":47.3,"v":6.7,"b":1.5},{"t":48.1,"v":4,"b":1.5},{"t":49.0,"v":2.5,"b":1},{"t":50.1,"v":3.4,"b":1},{"t":51.5,"v":2.4,"b":1}],
    "pkI": [{"t":23.9,"v":9,"b":6.2},{"t":24.3,"v":17,"b":7.7},{"t":24.5,"v":18,"b":8.5},{"t":24.95,"v":30,"b":9.5},{"t":25.6,"v":12,"b":9.9},{"t":26.1,"v":22,"b":11.7},{"t":26.25,"v":58,"b":12},{"t":26.4,"v":28,"b":12.3},{"t":27.0,"v":14,"b":10.5},{"t":27.6,"v":97,"b":10.5},{"t":28.0,"v":14,"b":10.5},{"t":28.4,"v":21,"b":10.5},{"t":28.65,"v":18,"b":10.5},{"t":28.85,"v":30,"b":10.5},{"t":29.3,"v":18,"b":10.5},{"t":29.7,"v":21,"b":10.5},{"t":30.2,"v":125,"b":10.4},{"t":30.6,"v":13,"b":10.2},{"t":30.95,"v":164,"b":10},{"t":31.6,"v":23,"b":9.9},{"t":32.2,"v":13,"b":9.5},{"t":32.45,"v":55,"b":9.5},{"t":33.0,"v":12,"b":9.5},{"t":33.55,"v":87,"b":9.5},{"t":34.5,"v":18,"b":9.5},{"t":34.7,"v":15,"b":9.5},{"t":35.5,"v":13,"b":10.5},{"t":35.95,"v":29,"b":13.2},{"t":36.1,"v":33,"b":13.7},{"t":36.35,"v":18,"b":14.2},{"t":36.65,"v":28,"b":14.8},{"t":36.8,"v":42,"b":15.1},{"t":36.95,"v":28,"b":15.4},{"t":37.1,"v":24,"b":15.5},{"t":37.4,"v":63,"b":15.5},{"t":37.65,"v":20,"b":15.8},{"t":37.85,"v":97,"b":16.2},{"t":38.1,"v":18,"b":16.5},{"t":38.35,"v":19,"b":16.5},{"t":38.7,"v":19,"b":16.1},{"t":39.0,"v":18,"b":15.5},{"t":39.25,"v":27,"b":15},{"t":39.4,"v":145,"b":14.7},{"t":39.6,"v":33,"b":14.3},{"t":40.0,"v":16,"b":13.5},{"t":40.45,"v":273,"b":12.6},{"t":40.7,"v":20,"b":11.7},{"t":41.1,"v":31,"b":10.3},{"t":41.35,"v":16,"b":9.8},{"t":41.6,"v":12,"b":9.1},{"t":41.95,"v":57,"b":7.7},{"t":42.1,"v":42,"b":7.3},{"t":42.25,"v":28,"b":7},{"t":42.45,"v":85,"b":6.6},{"t":42.75,"v":12,"b":6},{"t":43.2,"v":37,"b":5.1},{"t":43.55,"v":22,"b":4.4},{"t":44.2,"v":5,"b":3.4},{"t":45.0,"v":10.7,"b":3},{"t":45.5,"v":6.7,"b":2.5},{"t":46.1,"v":3,"b":2},{"t":47.3,"v":5.7,"b":1.9},{"t":48.1,"v":4,"b":1.5},{"t":49.0,"v":2,"b":1},{"t":50.1,"v":3.3,"b":1},{"t":51.5,"v":2.3,"b":0.8}],
    "lbA": [{"t":24.95,"v":46,"s":"TT 19","o":"v"},{"t":26.25,"v":84,"s":"TT 20","o":"v"},{"t":27.6,"v":129,"s":"TT 21","o":"v"},{"t":28.9,"v":40,"s":"TT 22","o":"v"},{"t":30.17,"v":166,"s":"TT 23","o":"v"},{"t":30.95,"v":199,"s":"TT 24","o":"v"},{"t":32.5,"v":70,"s":"TT 25","o":"v"},{"t":33.6,"v":122,"s":"□24+TT26","o":"v"},{"t":37.4,"v":76,"s":"Ts","o":"h"},{"t":37.95,"v":117,"s":"Tm","o":"h"},{"t":39.25,"v":149,"s":"C","sub":"29","o":"h"},{"t":40.3,"v":252.7,"s":"C","sub":"30","o":"h"},{"t":41.1,"v":31.7,"s":"M","o":"h"},{"t":41.6,"v":62.7,"s":"C","sub":"31","o":"h"},{"t":42.45,"v":85,"s":"G","o":"h"},{"t":43.27,"v":36.7,"s":"C","sub":"32","o":"h"},{"t":44.95,"v":19.3,"s":"C","sub":"33","o":"h"},{"t":47.36,"v":14.3,"s":"C","sub":"34","o":"h"},{"t":50.3,"v":17,"s":"C","sub":"35","o":"h"}],
    "lbB": [{"t":25.05,"v":31.7,"s":"TT 19","o":"v"},{"t":26.3,"v":55,"s":"TT 20","o":"v"},{"t":27.65,"v":84,"s":"TT 21","o":"v"},{"t":28.9,"v":32,"s":"TT 22","o":"v"},{"t":30.2,"v":109,"s":"TT 23","o":"v"},{"t":31.0,"v":148.4,"s":"TT 24","o":"v"},{"t":32.53,"v":52,"s":"TT 25","o":"v"},{"t":33.6,"v":87,"s":"□24+TT26","o":"v"},{"t":37.3,"v":42.4,"s":"Ts","o":"h"},{"t":37.8,"v":72.4,"s":"Tm","o":"h"},{"t":39.03,"v":148.4,"s":"C","sub":"29","o":"h"},{"t":40.05,"v":241.7,"s":"C","sub":"30","o":"h"},{"t":41.19,"v":31,"s":"M","o":"h"},{"t":41.48,"v":68.4,"s":"C","sub":"31","o":"h"},{"t":42.45,"v":97.7,"s":"G","o":"h"},{"t":43.16,"v":42.4,"s":"C","sub":"32","o":"h"},{"t":45.0,"v":16.7,"s":"C","sub":"33","o":"h"},{"t":47.3,"v":16.7,"s":"C","sub":"34","o":"h"},{"t":50.2,"v":15,"s":"C","sub":"35","o":"h"}],
    "lbC": [{"t":24.95,"v":20.7,"s":"TT 19","o":"v"},{"t":26.25,"v":46,"s":"TT 20","o":"v"},{"t":27.6,"v":78.7,"s":"TT 21","o":"v"},{"t":28.85,"v":34.4,"s":"TT 22","o":"v"},{"t":30.2,"v":126,"s":"TT 23","o":"v"},{"t":31.03,"v":166,"s":"TT 24","o":"v"},{"t":32.4,"v":64.4,"s":"TT 25","o":"v"},{"t":33.5,"v":96.7,"s":"□24+TT26","o":"v"},{"t":37.3,"v":64.4,"s":"Ts","o":"h"},{"t":37.8,"v":104.4,"s":"Tm","o":"h"},{"t":39.15,"v":147.7,"s":"C","sub":"29","o":"h"},{"t":40.0,"v":262,"s":"C","sub":"30","o":"h"},{"t":41.14,"v":32,"s":"M","o":"h"},{"t":41.32,"v":66,"s":"C","sub":"31","o":"h"},{"t":42.45,"v":86,"s":"G","o":"h"},{"t":43.12,"v":36.7,"s":"C","sub":"32","o":"h"},{"t":44.92,"v":18.4,"s":"C","sub":"33","o":"h"},{"t":47.3,"v":14.4,"s":"C","sub":"34","o":"h"},{"t":50.08,"v":16,"s":"C","sub":"35","o":"h"}]
  },
  "vconcat": [
    {
      "vconcat": [
        {
          "hconcat": [
            {
              "width": 505, "height": 276.5,
              "encoding": {
                "x": {"field": "t", "type": "quantitative", "scale": {"domain": [23.19, 54.75], "nice": false, "zero": false}, "axis": {"values": [24,25,26,27,28,29,30,31,32,33,34,35,36,37,38,39,40,41,42,43,44,45,46,47,48,49,50,51,52,53,54], "labelExpr": "datum.value % 5 === 0 ? format(datum.value, '.2f') : ''", "title": null}},
                "y": {"field": "v", "type": "quantitative", "scale": {"domain": [0, 276.5], "nice": false, "zero": false}, "axis": null}
              },
              "layer": [
                {"data": {"name": "bsA"}, "mark": {"type": "line", "color": "#222", "strokeWidth": 1.4}, "encoding": {}},
                {"data": {"name": "grA"}, "mark": {"type": "rule", "color": "#2a2a2a", "strokeWidth": 1.2}, "encoding": {"y": {"field": "b", "type": "quantitative", "axis": null}, "y2": {"field": "v"}}},
                {"data": {"name": "pkA"}, "mark": {"type": "rule", "color": "#1c1c1c", "strokeWidth": 2}, "encoding": {"y": {"field": "b", "type": "quantitative", "axis": null}, "y2": {"field": "v"}}},
                {"data": {"name": "lbA"}, "transform": [{"filter": "datum.o === 'v'"}], "mark": {"type": "text", "angle": 270, "align": "left", "baseline": "middle", "fontSize": 15, "color": "#222"}, "encoding": {"text": {"field": "s"}}},
                {"data": {"name": "lbA"}, "transform": [{"filter": "datum.o === 'h'"}], "mark": {"type": "text", "align": "center", "baseline": "alphabetic", "fontSize": 16, "color": "#222"}, "encoding": {"text": {"field": "s"}}},
                {"data": {"name": "lbA"}, "transform": [{"filter": "isValid(datum.sub)"}], "mark": {"type": "text", "align": "left", "baseline": "alphabetic", "fontSize": 8, "dx": 6, "dy": 3, "color": "#555"}, "encoding": {"text": {"field": "sub"}}},
                {"data": {"values": [{"t": 48.4, "v": 212.5, "s": "CAT 204-\n135,1m"}]}, "mark": {"type": "text", "align": "center", "baseline": "alphabetic", "fontSize": 21, "fontWeight": "bold", "color": "#d0282d", "lineBreak": "\n", "lineHeight": 25.5}, "encoding": {"text": {"field": "s"}}}
              ]
            },
            {
              "hconcat": [
                {
                  "width": 508, "height": 276.5,
                  "encoding": {
                    "x": {"field": "t", "type": "quantitative", "scale": {"domain": [23.07, 54.94], "nice": false, "zero": false}, "axis": {"values": [24,25,26,27,28,29,30,31,32,33,34,35,36,37,38,39,40,41,42,43,44,45,46,47,48,49,50,51,52,53,54], "labelExpr": "datum.value % 5 === 0 ? format(datum.value, '.2f') : ''", "title": null}},
                    "y": {"field": "v", "type": "quantitative", "scale": {"domain": [0, 276.5], "nice": false, "zero": false}, "axis": null}
                  },
                  "layer": [
                    {"data": {"name": "bsB"}, "mark": {"type": "line", "color": "#222", "strokeWidth": 1.4}, "encoding": {}},
                    {"data": {"name": "grB"}, "mark": {"type": "rule", "color": "#2a2a2a", "strokeWidth": 1.2}, "encoding": {"y": {"field": "b", "type": "quantitative", "axis": null}, "y2": {"field": "v"}}},
                    {"data": {"name": "pkB"}, "mark": {"type": "rule", "color": "#1c1c1c", "strokeWidth": 2}, "encoding": {"y": {"field": "b", "type": "quantitative", "axis": null}, "y2": {"field": "v"}}},
                    {"data": {"name": "lbB"}, "transform": [{"filter": "datum.o === 'v'"}], "mark": {"type": "text", "angle": 270, "align": "left", "baseline": "middle", "fontSize": 15, "color": "#222"}, "encoding": {"text": {"field": "s"}}},
                    {"data": {"name": "lbB"}, "transform": [{"filter": "datum.o === 'h'"}], "mark": {"type": "text", "align": "center", "baseline": "alphabetic", "fontSize": 16, "color": "#222"}, "encoding": {"text": {"field": "s"}}},
                    {"data": {"name": "lbB"}, "transform": [{"filter": "isValid(datum.sub)"}], "mark": {"type": "text", "align": "left", "baseline": "alphabetic", "fontSize": 8, "dx": 6, "dy": 3, "color": "#555"}, "encoding": {"text": {"field": "sub"}}},
                    {"data": {"values": [{"t": 48.52, "v": 230, "s": "CAT 204-\n202,6m"}]}, "mark": {"type": "text", "align": "center", "baseline": "alphabetic", "fontSize": 21, "fontWeight": "bold", "color": "#d0282d", "lineBreak": "\n", "lineHeight": 25.5}, "encoding": {"text": {"field": "s"}}}
                  ]
                },
                {
                  "width": 486, "height": 276.5,
                  "encoding": {
                    "x": {"field": "t", "type": "quantitative", "scale": {"domain": [23.1, 53.86], "nice": false, "zero": false}, "axis": {"values": [24,25,26,27,28,29,30,31,32,33,34,35,36,37,38,39,40,41,42,43,44,45,46,47,48,49,50,51,52,53], "labelExpr": "datum.value % 5 === 0 ? format(datum.value, '.2f') : ''", "title": null}},
                    "y": {"field": "v", "type": "quantitative", "scale": {"domain": [0, 276.5], "nice": false, "zero": false}, "axis": null}
                  },
                  "layer": [
                    {"data": {"name": "bsC"}, "mark": {"type": "line", "color": "#222", "strokeWidth": 1.4}, "encoding": {}},
                    {"data": {"name": "grC"}, "mark": {"type": "rule", "color": "#2a2a2a", "strokeWidth": 1.2}, "encoding": {"y": {"field": "b", "type": "quantitative", "axis": null}, "y2": {"field": "v"}}},
                    {"data": {"name": "pkC"}, "mark": {"type": "rule", "color": "#1c1c1c", "strokeWidth": 2}, "encoding": {"y": {"field": "b", "type": "quantitative", "axis": null}, "y2": {"field": "v"}}},
                    {"data": {"name": "lbC"}, "transform": [{"filter": "datum.o === 'v'"}], "mark": {"type": "text", "angle": 270, "align": "left", "baseline": "middle", "fontSize": 15, "color": "#222"}, "encoding": {"text": {"field": "s"}}},
                    {"data": {"name": "lbC"}, "transform": [{"filter": "datum.o === 'h'"}], "mark": {"type": "text", "align": "center", "baseline": "alphabetic", "fontSize": 16, "color": "#222"}, "encoding": {"text": {"field": "s"}}},
                    {"data": {"name": "lbC"}, "transform": [{"filter": "isValid(datum.sub)"}], "mark": {"type": "text", "align": "left", "baseline": "alphabetic", "fontSize": 8, "dx": 6, "dy": 3, "color": "#555"}, "encoding": {"text": {"field": "sub"}}},
                    {"data": {"values": [{"t": 49.4, "v": 231, "s": "CAT 215"}]}, "mark": {"type": "text", "align": "center", "baseline": "alphabetic", "fontSize": 21, "fontWeight": "bold", "color": "#d0282d"}, "encoding": {"text": {"field": "s"}}}
                  ]
                }
              ],
              "spacing": 51.4, "bounds": "flush"
            }
          ],
          "spacing": 43.9, "bounds": "flush"
        },
        {
          "hconcat": [
            {
              "width": 505, "height": 283,
              "encoding": {
                "x": {"field": "t", "type": "quantitative", "scale": {"domain": [23.19, 54.75], "nice": false, "zero": false}, "axis": {"values": [24,25,26,27,28,29,30,31,32,33,34,35,36,37,38,39,40,41,42,43,44,45,46,47,48,49,50,51,52,53,54], "labels": false, "title": null}},
                "y": {"field": "v", "type": "quantitative", "scale": {"domain": [0, 283], "nice": false, "zero": false}, "axis": null}
              },
              "layer": [
                {"data": {"name": "bsD"}, "mark": {"type": "line", "color": "#222", "strokeWidth": 1.4}, "encoding": {}},
                {"data": {"name": "grD"}, "mark": {"type": "rule", "color": "#2a2a2a", "strokeWidth": 1.2}, "encoding": {"y": {"field": "b", "type": "quantitative", "axis": null}, "y2": {"field": "v"}}},
                {"data": {"name": "pkD"}, "mark": {"type": "rule", "color": "#1c1c1c", "strokeWidth": 2}, "encoding": {"y": {"field": "b", "type": "quantitative", "axis": null}, "y2": {"field": "v"}}},
                {"data": {"values": [{"t": 48.4, "v": 234.5, "s": "CAT 204-\n183,5m"}]}, "mark": {"type": "text", "align": "center", "baseline": "alphabetic", "fontSize": 21, "fontWeight": "bold", "color": "#d0282d", "lineBreak": "\n", "lineHeight": 25.5}, "encoding": {"text": {"field": "s"}}}
              ]
            },
            {
              "hconcat": [
                {
                  "width": 508, "height": 283,
                  "encoding": {
                    "x": {"field": "t", "type": "quantitative", "scale": {"domain": [23.07, 54.94], "nice": false, "zero": false}, "axis": {"values": [24,25,26,27,28,29,30,31,32,33,34,35,36,37,38,39,40,41,42,43,44,45,46,47,48,49,50,51,52,53,54], "labels": false, "title": null}},
                    "y": {"field": "v", "type": "quantitative", "scale": {"domain": [0, 283], "nice": false, "zero": false}, "axis": null}
                  },
                  "layer": [
                    {"data": {"name": "bsE"}, "mark": {"type": "line", "color": "#222", "strokeWidth": 1.4}, "encoding": {}},
                    {"data": {"name": "grE"}, "mark": {"type": "rule", "color": "#2a2a2a", "strokeWidth": 1.2}, "encoding": {"y": {"field": "b", "type": "quantitative", "axis": null}, "y2": {"field": "v"}}},
                    {"data": {"name": "pkE"}, "mark": {"type": "rule", "color": "#1c1c1c", "strokeWidth": 2}, "encoding": {"y": {"field": "b", "type": "quantitative", "axis": null}, "y2": {"field": "v"}}},
                    {"data": {"values": [{"t": 49.23, "v": 234.5, "s": "CAT 179A"}]}, "mark": {"type": "text", "align": "center", "baseline": "alphabetic", "fontSize": 21, "fontWeight": "bold", "color": "#d0282d"}, "encoding": {"text": {"field": "s"}}}
                  ]
                },
                {
                  "width": 486, "height": 283,
                  "encoding": {
                    "x": {"field": "t", "type": "quantitative", "scale": {"domain": [23.1, 53.86], "nice": false, "zero": false}, "axis": {"values": [24,25,26,27,28,29,30,31,32,33,34,35,36,37,38,39,40,41,42,43,44,45,46,47,48,49,50,51,52,53], "labels": false, "title": null}},
                    "y": {"field": "v", "type": "quantitative", "scale": {"domain": [0, 283], "nice": false, "zero": false}, "axis": null}
                  },
                  "layer": [
                    {"data": {"name": "bsF"}, "mark": {"type": "line", "color": "#222", "strokeWidth": 1.4}, "encoding": {}},
                    {"data": {"name": "grF"}, "mark": {"type": "rule", "color": "#2a2a2a", "strokeWidth": 1.2}, "encoding": {"y": {"field": "b", "type": "quantitative", "axis": null}, "y2": {"field": "v"}}},
                    {"data": {"name": "pkF"}, "mark": {"type": "rule", "color": "#1c1c1c", "strokeWidth": 2}, "encoding": {"y": {"field": "b", "type": "quantitative", "axis": null}, "y2": {"field": "v"}}},
                    {"data": {"values": [{"t": 49.11, "v": 235.5, "s": "Óleo 1"}]}, "mark": {"type": "text", "align": "center", "baseline": "alphabetic", "fontSize": 21, "fontWeight": "bold", "color": "#d0282d"}, "encoding": {"text": {"field": "s"}}}
                  ]
                }
              ],
              "spacing": 51.4, "bounds": "flush"
            }
          ],
          "spacing": 43.9, "bounds": "flush"
        }
      ],
      "spacing": 75.5
    },
    {
      "hconcat": [
        {
          "width": 505, "height": 297.5,
          "encoding": {
            "x": {"field": "t", "type": "quantitative", "scale": {"domain": [23.19, 54.75], "nice": false, "zero": false}, "axis": {"values": [24,25,26,27,28,29,30,31,32,33,34,35,36,37,38,39,40,41,42,43,44,45,46,47,48,49,50,51,52,53,54], "labelExpr": "datum.value % 5 === 0 ? format(datum.value, '.2f') : ''", "title": null}},
            "y": {"field": "v", "type": "quantitative", "scale": {"domain": [0, 297.5], "nice": false, "zero": false}, "axis": null}
          },
          "layer": [
            {"data": {"name": "bsG"}, "mark": {"type": "line", "color": "#222", "strokeWidth": 1.4}, "encoding": {}},
            {"data": {"name": "grG"}, "mark": {"type": "rule", "color": "#2a2a2a", "strokeWidth": 1.2}, "encoding": {"y": {"field": "b", "type": "quantitative", "axis": null}, "y2": {"field": "v"}}},
            {"data": {"name": "pkG"}, "mark": {"type": "rule", "color": "#1c1c1c", "strokeWidth": 2}, "encoding": {"y": {"field": "b", "type": "quantitative", "axis": null}, "y2": {"field": "v"}}},
            {"data": {"values": [{"t": 48.4, "v": 226, "s": "CAT 204-\n194,5m"}]}, "mark": {"type": "text", "align": "center", "baseline": "alphabetic", "fontSize": 21, "fontWeight": "bold", "color": "#d0282d", "lineBreak": "\n", "lineHeight": 25.5}, "encoding": {"text": {"field": "s"}}}
          ]
        },
        {
          "hconcat": [
            {
              "width": 508, "height": 297.5,
              "encoding": {
                "x": {"field": "t", "type": "quantitative", "scale": {"domain": [23.07, 54.94], "nice": false, "zero": false}, "axis": {"values": [24,25,26,27,28,29,30,31,32,33,34,35,36,37,38,39,40,41,42,43,44,45,46,47,48,49,50,51,52,53,54], "labelExpr": "datum.value % 5 === 0 ? format(datum.value, '.2f') : ''", "title": null}},
                "y": {"field": "v", "type": "quantitative", "scale": {"domain": [0, 297.5], "nice": false, "zero": false}, "axis": null}
              },
              "layer": [
                {"data": {"name": "bsH"}, "mark": {"type": "line", "color": "#222", "strokeWidth": 1.4}, "encoding": {}},
                {"data": {"name": "grH"}, "mark": {"type": "rule", "color": "#2a2a2a", "strokeWidth": 1.2}, "encoding": {"y": {"field": "b", "type": "quantitative", "axis": null}, "y2": {"field": "v"}}},
                {"data": {"name": "pkH"}, "mark": {"type": "rule", "color": "#1c1c1c", "strokeWidth": 2}, "encoding": {"y": {"field": "b", "type": "quantitative", "axis": null}, "y2": {"field": "v"}}},
                {"data": {"values": [{"t": 49.1, "v": 224, "s": "CAT 175B"}]}, "mark": {"type": "text", "align": "center", "baseline": "alphabetic", "fontSize": 21, "fontWeight": "bold", "color": "#d0282d"}, "encoding": {"text": {"field": "s"}}}
              ]
            },
            {
              "width": 486, "height": 297.5,
              "encoding": {
                "x": {"field": "t", "type": "quantitative", "scale": {"domain": [23.1, 53.86], "nice": false, "zero": false}, "axis": {"values": [24,25,26,27,28,29,30,31,32,33,34,35,36,37,38,39,40,41,42,43,44,45,46,47,48,49,50,51,52,53], "labelExpr": "datum.value % 5 === 0 ? format(datum.value, '.2f') : ''", "title": null}},
                "y": {"field": "v", "type": "quantitative", "scale": {"domain": [0, 297.5], "nice": false, "zero": false}, "axis": null}
              },
              "layer": [
                {"data": {"name": "bsI"}, "mark": {"type": "line", "color": "#222", "strokeWidth": 1.4}, "encoding": {}},
                {"data": {"name": "grI"}, "mark": {"type": "rule", "color": "#2a2a2a", "strokeWidth": 1.2}, "encoding": {"y": {"field": "b", "type": "quantitative", "axis": null}, "y2": {"field": "v"}}},
                {"data": {"name": "pkI"}, "mark": {"type": "rule", "color": "#1c1c1c", "strokeWidth": 2}, "encoding": {"y": {"field": "b", "type": "quantitative", "axis": null}, "y2": {"field": "v"}}},
                {"data": {"values": [{"t": 49.3, "v": 226, "s": "Óleo 2"}]}, "mark": {"type": "text", "align": "center", "baseline": "alphabetic", "fontSize": 21, "fontWeight": "bold", "color": "#d0282d"}, "encoding": {"text": {"field": "s"}}}
              ]
            }
          ],
          "spacing": 51.4, "bounds": "flush"
        }
      ],
      "spacing": 43.9, "bounds": "flush"
    }
  ],
  "spacing": 86
}
